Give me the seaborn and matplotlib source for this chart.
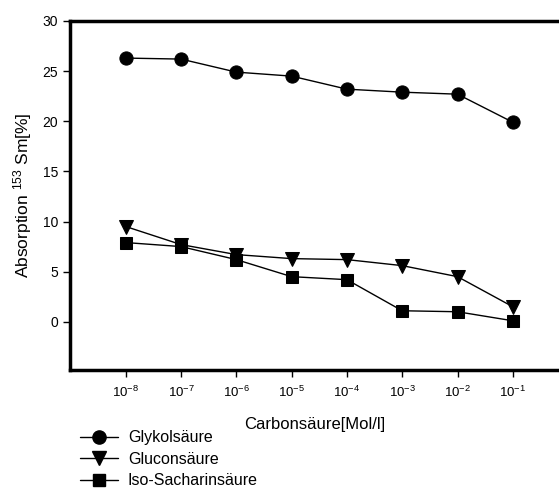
import matplotlib
matplotlib.use("Agg")
import matplotlib.pyplot as plt
import matplotlib.ticker as mticker
from matplotlib.lines import Line2D
import seaborn as sns
import numpy as np

conc = [1e-8, 1e-7, 1e-6, 1e-5, 1e-4, 1e-3, 1e-2, 1e-1]
glykol = [26.3, 26.2, 24.9, 24.5, 23.2, 22.9, 22.7, 19.9]
glucon = [9.5, 7.7, 6.7, 6.3, 6.2, 5.6, 4.5, 1.5]
iso = [7.9, 7.5, 6.2, 4.5, 4.2, 1.1, 1.0, 0.1]

series = [
    ("Glykolsäure", glykol, "o", 9.5),
    ("Gluconsäure", glucon, "v", 9.5),
    ("Iso-Sacharinsäure", iso, "s", 8.5),
]

sns.set_style("white")
plt.rcParams["font.family"] = ["Liberation Sans", "DejaVu Sans"]
plt.rcParams["mathtext.default"] = "regular"
plt.rcParams["text.color"] = "black"
plt.rcParams["axes.labelcolor"] = "black"

fig = plt.figure(figsize=(5.59, 4.88), dpi=100)
ax = fig.add_axes([0.125, 0.242, 0.875, 0.715])

for name, vals, mk, ms in series:
    sns.lineplot(x=conc, y=vals, marker=mk, markersize=ms, color="black",
                 linewidth=1, markeredgecolor="black", ax=ax, label=name, legend=False)

ax.set_xscale("log")
ax.set_xlim(10 ** -9.01, 10 ** -0.165)
ax.set_ylim(-4.8, 30)
ax.xaxis.set_major_locator(mticker.FixedLocator(conc))
ax.xaxis.set_minor_locator(mticker.NullLocator())
ax.set_yticks([0, 5, 10, 15, 20, 25, 30])
ax.tick_params(axis="both", direction="out", length=5, width=1, labelsize=10,
               left=True, bottom=True, colors="black")
ax.tick_params(axis="x", pad=6, labelsize=9.5)

for s in ["left", "bottom", "top"]:
    ax.spines[s].set_linewidth(2.5)
    ax.spines[s].set_color("black")
ax.spines["right"].set_visible(False)

ax.set_ylabel("Absorption $^{153}$ Sm[%]", fontsize=12.5, labelpad=6)
ax.set_xlabel("Carbonsäure[Mol/l]", fontsize=12, labelpad=12)

handles = [Line2D([], [], color="black", linewidth=1, marker=mk, markersize=ms)
           for name, vals, mk, ms in series]
fig.legend(handles, [s[0] for s in series], loc="upper left",
           bbox_to_anchor=(0.143, 0.118), frameon=False, fontsize=11.5,
           handlelength=2.4, labelspacing=0.4, handletextpad=0.6,
           borderaxespad=0, borderpad=0)

plt.savefig("out.png", dpi=100)
